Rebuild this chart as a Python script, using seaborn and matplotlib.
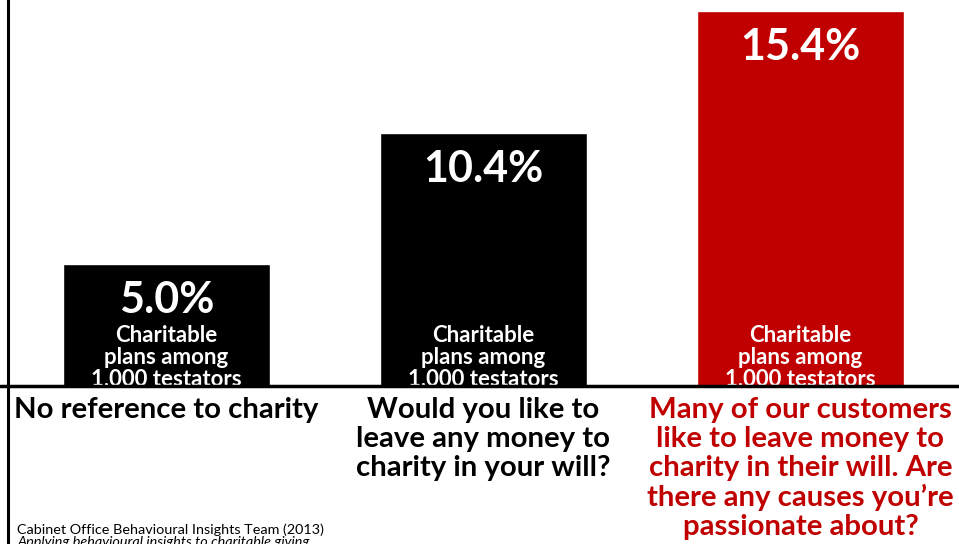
import matplotlib
matplotlib.use("Agg")
import matplotlib.pyplot as plt
import seaborn as sns
import pandas as pd
from matplotlib.lines import Line2D

categories = ["No reference to charity",
              "Would you like to\nleave any money to\ncharity in your will?",
              "Many of our customers\nlike to leave money to\ncharity in their will. Are\nthere any causes you\u2019re\npassionate about?"]
values = [5.0, 10.4, 15.4]
value_labels = ["5.0%", "10.4%", "15.4%"]
bar_colors = ["#000000", "#000000", "#C00000"]
label_colors = ["#000000", "#000000", "#C00000"]
inner_text = "Charitable\nplans among\n1,000 testators"
source_line1 = "Cabinet Office Behavioural Insights Team (2013)"
source_line2 = "Applying behavioural insights to charitable giving"

sns.set_theme(style="white")
plt.rcParams['font.family'] = ['Lato', 'DejaVu Sans']

df = pd.DataFrame({"cat": categories, "val": values})

fig = plt.figure(figsize=(9.59, 5.44), dpi=100)
ax = fig.add_axes([8/959, 158/544, 951/959, 386/544])
sns.barplot(data=df, x="cat", y="val", hue="cat", palette=bar_colors,
            legend=False, width=0.656, ax=ax, saturation=1)
ax.set_xlim(-0.5, 2.5)
ax.set_ylim(0, 15.85)
ax.set_xticks([])
ax.set_yticks([])
ax.set_xlabel("")
ax.set_ylabel("")
for s in ax.spines.values():
    s.set_visible(False)

for i, (v, lab) in enumerate(zip(values, value_labels)):
    ax.annotate(lab, (i, v), xytext=(0, -26), textcoords="offset points",
                ha="center", va="center", color="white", fontsize=31,
                fontweight="bold")
    ax.annotate(inner_text, (i, 0), xytext=(0, -2.5), textcoords="offset points",
                ha="center", va="bottom", color="white", fontsize=16,
                fontweight="bold", linespacing=1.03, annotation_clip=False)
    ax.annotate(categories[i], (i, 0), xytext=(0, -7.8), textcoords="offset points",
                ha="center", va="top", color=label_colors[i], fontsize=21.2,
                fontweight="bold", linespacing=1.135, annotation_clip=False)

# axis lines
fig.add_artist(Line2D([0, 1], [158/544, 158/544], color="black", lw=2.5,
                      transform=fig.transFigure))
fig.add_artist(Line2D([8/959, 8/959], [0, 1], color="black", lw=2.2,
                      transform=fig.transFigure))

fig.text(17/959, 14/544, source_line1, fontsize=10.35, va="center", ha="left",
         color="black")
fig.text(17/959, 2/544, source_line2, fontsize=10.35, va="center", ha="left",
         color="black", style="italic")

fig.savefig("out.png", dpi=100)
